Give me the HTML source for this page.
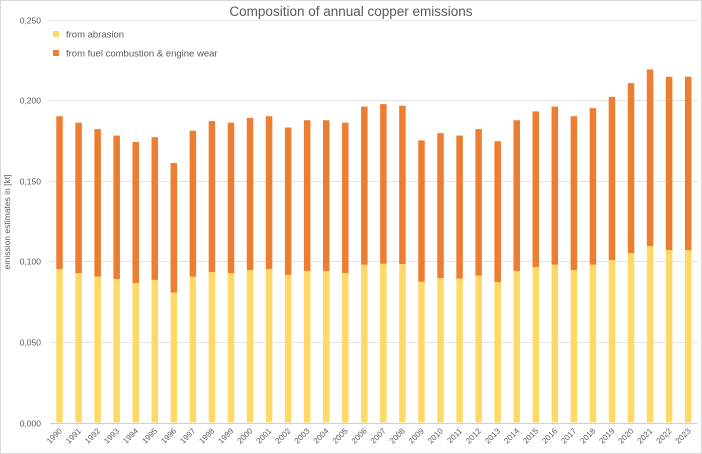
<!DOCTYPE html>
<html><head><meta charset="utf-8"><style>
html,body{margin:0;padding:0;background:#fff;}
svg{display:block;font-family:"Liberation Sans",sans-serif;}
</style></head><body>
<svg id="chart" width="702" height="454" viewBox="0 0 702 454">
<rect x="0.5" y="0.5" width="701" height="453" fill="#fff" stroke="#d9d9d9"/>
<text x="351" y="16" text-anchor="middle" font-size="13.5" fill="#595959">Composition of annual copper emissions</text>
<g id="grid"></g>
<g id="bars"></g>
<g id="yticks"></g>
<g id="xticks"></g>
<text transform="translate(10,222) rotate(-90)" text-anchor="middle" font-size="8.5" fill="#595959">emission estimates in [kt]</text>
<g>
<g><rect x="53" y="31" width="6" height="6" fill="#FFD966"/><text x="66" y="37.5" font-size="9.5" fill="#595959">from abrasion</text></g>
<g><rect x="53" y="50" width="6" height="6" fill="#ED7D31"/><text x="66" y="56.5" font-size="9.5" fill="#595959">from fuel combustion &amp; engine wear</text></g>
</g>
</svg>
<script>
const years = [1990,1991,1992,1993,1994,1995,1996,1997,1998,1999,2000,2001,2002,2003,2004,2005,2006,2007,2008,2009,2010,2011,2012,2013,2014,2015,2016,2017,2018,2019,2020,2021,2022,2023];
const abrasion = [0.0952,0.0927,0.0905,0.089,0.0865,0.0885,0.0806,0.0905,0.0933,0.0927,0.0946,0.0952,0.0915,0.094,0.094,0.0927,0.0979,0.0985,0.0983,0.0873,0.0896,0.0892,0.0911,0.0871,0.094,0.0964,0.0979,0.0946,0.0979,0.1008,0.1051,0.1095,0.107,0.107];
const totals = [0.190,0.186,0.182,0.178,0.174,0.177,0.161,0.181,0.187,0.186,0.189,0.190,0.183,0.1875,0.1875,0.186,0.196,0.1975,0.1965,0.175,0.1795,0.178,0.182,0.1745,0.1875,0.193,0.196,0.190,0.195,0.202,0.2105,0.219,0.2145,0.2145];
const yTickValues = [0,0.05,0.1,0.15,0.2,0.25];
const yTickLabels = ["0,000","0,050","0,100","0,150","0,200","0,250"];

const NS="http://www.w3.org/2000/svg";
const left=50, right=697.7, y0=422.5, yTop=19.5, yMax=0.25;
const band=(right-left)/years.length, barW=6.5;
const yScale=v=>y0-(v/yMax)*(y0-yTop);
const xCenter=i=>left+band*(i+0.5);
function mk(tag,attrs,parent){const e=document.createElementNS(NS,tag);for(const k in attrs)e.setAttribute(k,attrs[k]);parent.appendChild(e);return e;}
const grid=document.getElementById('grid'),bars=document.getElementById('bars'),yt=document.getElementById('yticks'),xt=document.getElementById('xticks');
yTickValues.forEach((v,i)=>{
  const y=Math.round(yScale(v))+0.5;
  const l=mk('line',{x1:left,x2:right,y1:y,y2:y,stroke:i===0?'#d0d0d0':'#e3e3e3','stroke-width':1},grid);
  
  
  const t=mk('text',{x:41,y:y+3,'text-anchor':'end','font-size':8.5,fill:'#595959'},yt);
  t.textContent=yTickLabels[i];
  
  
});
years.forEach((yr,i)=>{
  const cx=xCenter(i);
  const ya=yScale(abrasion[i]), yt2=yScale(totals[i]);
  const r1=mk('rect',{x:cx-barW/2,y:ya,width:barW,height:y0-ya,fill:'#FFD966'},bars);
  
  
  const r2=mk('rect',{x:cx-barW/2,y:yt2,width:barW,height:ya-yt2,fill:'#ED7D31'},bars);
  
  
  const t=mk('text',{transform:`translate(${cx+3},${y0+9}) rotate(-45)`,'text-anchor':'end','font-size':8,fill:'#595959'},xt);
  t.textContent=yr;
  
  
});
</script>
</body></html>
